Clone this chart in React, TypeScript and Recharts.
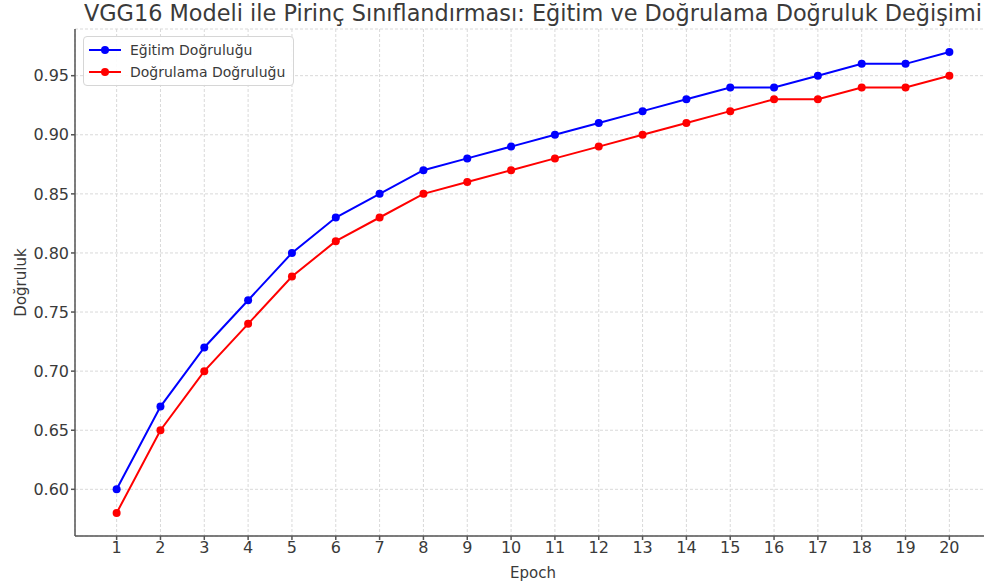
import React from "react";
import { LineChart, Line, XAxis, YAxis, CartesianGrid } from "recharts";

const epochs = [1, 2, 3, 4, 5, 6, 7, 8, 9, 10, 11, 12, 13, 14, 15, 16, 17, 18, 19, 20];
const trainAcc = [0.60, 0.67, 0.72, 0.76, 0.80, 0.83, 0.85, 0.87, 0.88, 0.89, 0.90, 0.91, 0.92, 0.93, 0.94, 0.94, 0.95, 0.96, 0.96, 0.97];
const valAcc = [0.58, 0.65, 0.70, 0.74, 0.78, 0.81, 0.83, 0.85, 0.86, 0.87, 0.88, 0.89, 0.90, 0.91, 0.92, 0.93, 0.93, 0.94, 0.94, 0.95];
const yTicks = [0.60, 0.65, 0.70, 0.75, 0.80, 0.85, 0.90, 0.95];
const seriesNames = ["Eğitim Doğruluğu", "Doğrulama Doğruluğu"];
const title = "VGG16 Modeli ile Pirinç Sınıflandırması: Eğitim ve Doğrulama Doğruluk Değişimi";

const data = epochs.map((e, i) => ({ epoch: e, train: trainAcc[i], val: valAcc[i] }));

const FONT = "'DejaVu Sans', sans-serif";
const TEXT = "#3a3a3a";
const AXIS = "#555";

const LegendBox = () => (
  <div
    style={{
      position: "absolute",
      left: 83,
      top: 36,
      background: "rgba(255,255,255,0.9)",
      border: "1px solid #d6d6d6",
      borderRadius: 4,
      padding: "2px 8px 2px 4px",
      fontFamily: FONT,
      fontSize: 14,
      color: TEXT,
    }}
  >
    {[{ n: seriesNames[0], c: "#0000ff" }, { n: seriesNames[1], c: "#ff0000" }].map((it) => (
      <div key={it.n} style={{ display: "flex", alignItems: "center", height: 22 }}>
        <svg width={34} height={12} style={{ marginRight: 8 }}>
          <line x1={1} y1={6} x2={33} y2={6} stroke={it.c} strokeWidth={2} />
          <circle cx={17} cy={6} r={4} fill={it.c} />
        </svg>
        <span>{it.n}</span>
      </div>
    ))}
  </div>
);

export default function App() {
  return (
    <div style={{ position: "absolute", left: 0, top: 0, width: 984, height: 584, overflow: "hidden", background: "#fff" }}>
      <LineChart width={1000} height={584} data={data} margin={{ top: 29, right: 9, left: 0, bottom: 0 }}>
        <CartesianGrid stroke="#d9d9d9" strokeDasharray="3 2" />
        <XAxis
          dataKey="epoch"
          type="number"
          domain={[0.05, 20.95]}
          ticks={epochs}
          interval={0}
          height={48}
          stroke={AXIS}
          strokeWidth={1.5}
          tickSize={4}
          tickMargin={2}
          tick={{ fill: TEXT, fontSize: 16, fontFamily: FONT }}
          label={{ value: "Epoch", position: "insideBottom", offset: 6, fill: TEXT, fontSize: 15, fontFamily: FONT }}
        />
        <YAxis
          type="number"
          domain={[0.5605, 0.9895]}
          ticks={yTicks}
          interval={0}
          width={75}
          stroke={AXIS}
          strokeWidth={1.5}
          tickSize={4}
          tickMargin={2}
          tickFormatter={(v: number) => v.toFixed(2)}
          tick={{ fill: TEXT, fontSize: 16, fontFamily: FONT }}
          label={{ value: "Doğruluk", angle: -90, position: "insideLeft", offset: 21, fill: TEXT, fontSize: 15, fontFamily: FONT, style: { textAnchor: "middle" } }}
        />
        <Line
          type="linear"
          dataKey="train"
          name={seriesNames[0]}
          stroke="#0000ff"
          strokeWidth={2}
          dot={{ r: 4, fill: "#0000ff", stroke: "#0000ff", strokeWidth: 0 }}
          isAnimationActive={false}
        />
        <Line
          type="linear"
          dataKey="val"
          name={seriesNames[1]}
          stroke="#ff0000"
          strokeWidth={2}
          dot={{ r: 4, fill: "#ff0000", stroke: "#ff0000", strokeWidth: 0 }}
          isAnimationActive={false}
        />
      </LineChart>
      <div
        style={{
          position: "absolute",
          left: 0,
          top: 0,
          width: 1066,
          textAlign: "center",
          whiteSpace: "nowrap",
          fontFamily: FONT,
          fontSize: 22.4,
          color: TEXT,
        }}
      >
        {title}
      </div>
      <LegendBox />
    </div>
  );
}
